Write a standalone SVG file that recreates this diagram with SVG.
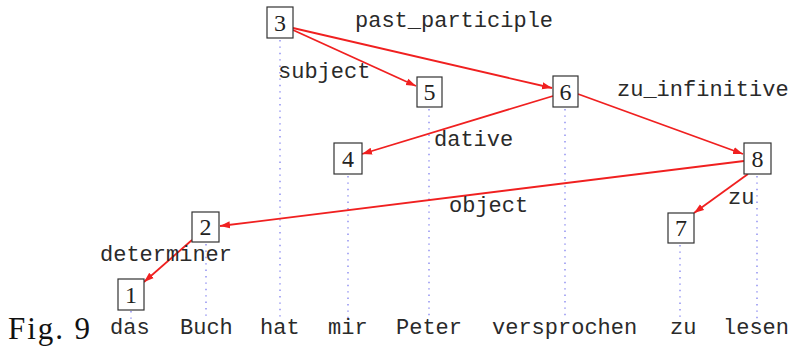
<svg xmlns="http://www.w3.org/2000/svg" width="791" height="348" viewBox="0 0 791 348">
<style>
.box{fill:#fff;stroke:#333;stroke-width:1.2}
.num{font-family:"Liberation Serif",serif;font-size:24px;fill:#222;text-anchor:middle}
.lbl{font-family:"Liberation Mono",monospace;font-size:22px;fill:#2a2a2a}
.dot{stroke:#8a8af0;stroke-width:1.4;stroke-dasharray:1.4 5}
.edge{stroke:#f02020;stroke-width:1.8;fill:none;marker-end:url(#ah)}
</style>
<defs>
<marker id="ah" markerUnits="userSpaceOnUse" markerWidth="11" markerHeight="8" refX="10" refY="4" orient="auto">
<path d="M0,0.5 L10,4 L0,7.5 z" fill="#f02020"/>
</marker>
</defs>
<rect width="791" height="348" fill="#fff"/>
<g id="guides">
<line class="dot" x1="131" y1="311" x2="131" y2="320"/>
<line class="dot" x1="206" y1="244" x2="206" y2="320"/>
<line class="dot" x1="280" y1="40" x2="280" y2="320"/>
<line class="dot" x1="348" y1="176" x2="348" y2="320"/>
<line class="dot" x1="429" y1="109" x2="429" y2="320"/>
<line class="dot" x1="565" y1="109" x2="565" y2="320"/>
<line class="dot" x1="680" y1="245" x2="680" y2="320"/>
<line class="dot" x1="757" y1="176" x2="757" y2="320"/>
</g>
<g id="connectors">
<line class="edge" x1="293" y1="30" x2="416" y2="86"/>
<line class="edge" x1="293" y1="28" x2="552" y2="88"/>
<line class="edge" x1="553" y1="96" x2="362" y2="154"/>
<line class="edge" x1="578" y1="94" x2="743" y2="154"/>
<line class="edge" x1="744" y1="161" x2="220" y2="226"/>
<line class="edge" x1="748" y1="174" x2="694" y2="213"/>
<line class="edge" x1="192" y1="240" x2="144" y2="282"/>
</g>
<g id="node1"><rect class="box" x="118" y="279" width="26" height="31"/><text class="num" x="131" y="303">1</text></g>
<g id="node2"><rect class="box" x="192" y="212" width="27" height="30"/><text class="num" x="205.5" y="235">2</text></g>
<g id="node3"><rect class="box" x="267" y="7" width="26" height="31"/><text class="num" x="280" y="31">3</text></g>
<g id="node4"><rect class="box" x="334" y="143" width="28" height="31"/><text class="num" x="348" y="167">4</text></g>
<g id="node5"><rect class="box" x="417" y="77" width="25" height="30"/><text class="num" x="429.5" y="100">5</text></g>
<g id="node6"><rect class="box" x="553" y="76" width="25" height="31"/><text class="num" x="565.5" y="100">6</text></g>
<g id="node7"><rect class="box" x="668" y="213" width="26" height="30"/><text class="num" x="681" y="236">7</text></g>
<g id="node8"><rect class="box" x="744" y="143" width="27" height="31"/><text class="num" x="757.5" y="167">8</text></g>
<g id="labels">
<text class="lbl" x="355" y="27">past_participle</text>
<text class="lbl" x="278" y="78">subject</text>
<text class="lbl" x="617" y="96">zu_infinitive</text>
<text class="lbl" x="434" y="146">dative</text>
<text class="lbl" x="449" y="212">object</text>
<text class="lbl" x="728" y="204">zu</text>
<text class="lbl" x="100" y="261">determiner</text>
</g>
<g id="words">
<text class="lbl" x="110" y="334">das</text>
<text class="lbl" x="180" y="334">Buch</text>
<text class="lbl" x="260" y="334">hat</text>
<text class="lbl" x="328" y="334">mir</text>
<text class="lbl" x="396" y="334">Peter</text>
<text class="lbl" x="492" y="334">versprochen</text>
<text class="lbl" x="670" y="334">zu</text>
<text class="lbl" x="723" y="334">lesen</text>
</g>
<text x="8" y="339" font-family="Liberation Serif, serif" font-size="31" fill="#111" textLength="82" lengthAdjust="spacing">Fig. 9</text>
</svg>
